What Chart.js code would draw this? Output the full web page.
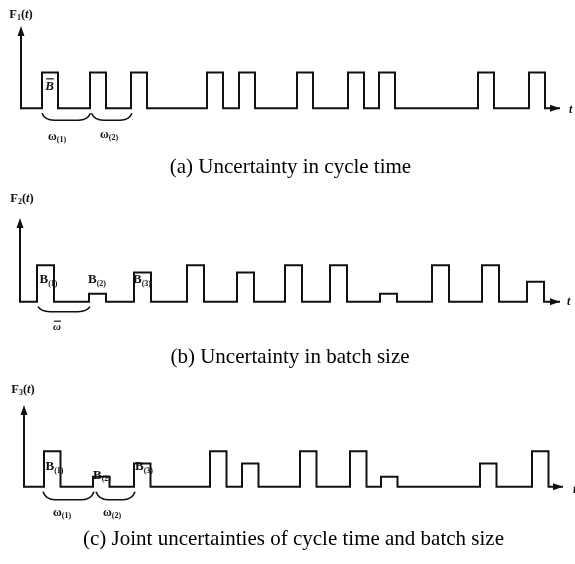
<!DOCTYPE html>
<html><head><meta charset="utf-8">
<script src="https://cdn.jsdelivr.net/npm/chart.js@4.4.0/dist/chart.umd.min.js"></script>
<style>
html,body{margin:0;padding:0;background:#fff;}
#wrap{position:relative;width:575px;height:564px;overflow:hidden;background:#fff;}
canvas{position:absolute;left:0;}
</style></head><body>
<div id="wrap">
<canvas id="ca" width="575" height="185" style="top:0px;width:575px;height:185px"></canvas>
<canvas id="cb" width="575" height="187" style="top:185px;width:575px;height:187px"></canvas>
<canvas id="cc" width="575" height="192" style="top:372px;width:575px;height:192px"></canvas>
</div>
<script>
// ---- data (time in arbitrary units, heights relative to mean batch size B̄ = 1) ----
const captionA = "(a) Uncertainty in cycle time";
const captionB = "(b) Uncertainty in batch size";
const captionC = "(c) Joint uncertainties of cycle time and batch size";

const pulseStartA  = [2.1, 6.9, 11.0, 18.6, 21.8, 27.6, 32.7, 35.8, 45.7, 50.8];
const pulseHeightA = [1, 1, 1, 1, 1, 1, 1, 1, 1, 1];
const pulseWidthA  = 1.6;
const timeEndA     = 53.9;

const pulseStartB  = [1.7, 6.9, 11.4, 16.7, 21.7, 26.5, 31.0, 36.0, 41.2, 46.2, 50.7];
const pulseHeightB = [1, 0.22, 0.8, 1, 0.8, 1, 1, 0.22, 1, 1, 0.55];
const pulseWidthB  = 1.7;
const timeEndB     = 54.0;

const pulseStartC  = [2.0, 6.9, 11.0, 18.6, 21.8, 27.6, 32.6, 35.7, 45.6, 50.8];
const pulseHeightC = [1, 0.28, 0.65, 1, 0.65, 1, 1, 0.28, 0.65, 1];
const pulseWidthC  = 1.65;
const timeEndC     = 53.9;

const yMax = 2.3;

// ---- helpers ----
function pulseTrain(starts, heights, width, tEnd){
  const pts = [{x:0, y:0}];
  starts.forEach((s,i)=>{
    pts.push({x:s,y:0},{x:s,y:heights[i]},{x:s+width,y:heights[i]},{x:s+width,y:0});
  });
  pts.push({x:tEnd, y:0});
  return pts;
}
const SERIF = '"Liberation Serif","Times New Roman",serif';
function drawParts(ctx, x, y, parts, align){
  let w = 0;
  parts.forEach(p=>{ctx.font=p.f; p.w = ctx.measureText(p.t).width; w += p.w;});
  let cx = align==='center' ? x - w/2 : x;
  ctx.textBaseline = 'middle'; ctx.textAlign = 'left'; ctx.fillStyle = '#111';
  parts.forEach(p=>{
    ctx.font = p.f; ctx.fillText(p.t, cx, y + (p.dy||0));
    if (p.bar){ ctx.save(); ctx.strokeStyle='#111'; ctx.lineWidth=1.2; ctx.beginPath(); ctx.moveTo(cx+1, y-p.bar); ctx.lineTo(cx+p.w, y-p.bar); ctx.stroke(); ctx.restore(); }
    cx += p.w;
  });
}
const fMain = 'bold 13px '+SERIF, fSub='bold 8px '+SERIF, fIt='bold italic 12px '+SERIF;
function fLabel(n){ return [{t:'F',f:'bold 12.5px '+SERIF},{t:n,f:'bold 8px '+SERIF,dy:3},{t:'(',f:'bold 12.5px '+SERIF},{t:'t',f:'bold italic 12.5px '+SERIF},{t:')',f:'bold 12.5px '+SERIF}]; }
function bLabel(n){ return [{t:'B',f:fMain},{t:'('+n+')',f:fSub,dy:4}]; }
function wLabel(n){ return [{t:'ω',f:'bold 12px '+SERIF},{t:'('+n+')',f:'bold 8px '+SERIF,dy:3}]; }

// ---- annotation layouts (value coordinates) ----
const annA = {
  labels:[
    {x:0.0, y:2.62, parts:fLabel('1'), align:'center'},
    {x:2.85, y:0.6, parts:[{t:'B',f:'bold italic 13px '+SERIF,bar:8}], align:'center'},
    {x:3.6, y:-0.8, parts:wLabel('1'), align:'center'},
    {x:8.8, y:-0.75, parts:wLabel('2'), align:'center'},
    {x:54.8, y:-0.05, parts:[{t:'t',f:fIt}], align:'left'}
  ],
  braces:[[2.1,6.95],[7.05,11.1]], braceDepth:12
};
const annB = {
  labels:[
    {x:0.2, y:2.82, parts:fLabel('2'), align:'center'},
    {x:1.95, y:0.6, parts:bLabel('1'), align:'left'},
    {x:6.8, y:0.6, parts:bLabel('2'), align:'left'},
    {x:11.3, y:0.6, parts:bLabel('3'), align:'left'},
    {x:3.7, y:-0.7, parts:[{t:'ω',f:'bold italic 11px '+SERIF,bar:6}], align:'center'},
    {x:54.7, y:0, parts:[{t:'t',f:fIt}], align:'left'}
  ],
  braces:[[1.8,7.0]], braceDepth:10
};
const annC = {
  labels:[
    {x:-0.1, y:2.72, parts:fLabel('3'), align:'center'},
    {x:2.15, y:0.56, parts:bLabel('1'), align:'left'},
    {x:6.9, y:0.32, parts:bLabel('2'), align:'left'},
    {x:11.1, y:0.56, parts:bLabel('3'), align:'left'},
    {x:3.8, y:-0.75, parts:wLabel('1'), align:'center'},
    {x:8.8, y:-0.75, parts:wLabel('2'), align:'center'},
    {x:54.9, y:-0.1, parts:[{t:'t',f:fIt}], align:'left'}
  ],
  braces:[[1.9,7.0],[7.2,11.1]], braceDepth:13
};

const decor = {
  id:'decor',
  afterDatasetsDraw(chart, args, opts){
    const ctx = chart.ctx, a = chart.chartArea, xs = chart.scales.x, ys = chart.scales.y;
    const ann = opts.ann;
    ctx.save();
    ctx.strokeStyle = '#111'; ctx.fillStyle = '#111'; ctx.lineWidth = 2;
    // y axis with arrow
    ctx.beginPath(); ctx.moveTo(a.left, a.bottom+1); ctx.lineTo(a.left, a.top+8); ctx.stroke();
    ctx.beginPath(); ctx.moveTo(a.left, a.top); ctx.lineTo(a.left-3.5, a.top+10); ctx.lineTo(a.left+3.5, a.top+10); ctx.closePath(); ctx.fill();
    // x axis arrow head
    ctx.beginPath(); ctx.moveTo(a.right, a.bottom); ctx.lineTo(a.right-10, a.bottom-3.5); ctx.lineTo(a.right-10, a.bottom+3.5); ctx.closePath(); ctx.fill();
    // braces
    ctx.lineWidth = 1.6;
    const base = ys.getPixelForValue(0);
    ann.braces.forEach(([t1,t2])=>{
      const x1 = xs.getPixelForValue(t1), x2 = xs.getPixelForValue(t2);
      const yT = base + 5, yB = base + ann.braceDepth;
      ctx.beginPath();
      ctx.moveTo(x1, yT);
      ctx.quadraticCurveTo(x1+3, yB, x1+12, yB);
      ctx.lineTo(x2-12, yB);
      ctx.quadraticCurveTo(x2-3, yB, x2, yT);
      ctx.stroke();
    });
    // labels
    ann.labels.forEach(l=>{
      drawParts(ctx, xs.getPixelForValue(l.x), ys.getPixelForValue(l.y), l.parts, l.align);
    });
    ctx.restore();
  }
};

function makeChart(id, starts, heights, width, tEnd, caption, ann, pad, titleSize, titlePad){
  new Chart(document.getElementById(id), {
    type:'line',
    data:{datasets:[{
      data: pulseTrain(starts, heights, width, tEnd),
      borderColor:'#111', borderWidth:2, pointRadius:0, tension:0, fill:false,
      clip:false, borderJoinStyle:'miter'
    }]},
    options:{
      responsive:false, animation:false, devicePixelRatio:1,
      layout:{padding:pad},
      scales:{
        x:{type:'linear', min:0, max:tEnd, display:false},
        y:{type:'linear', min:0, max:yMax, display:false}
      },
      plugins:{
        legend:{display:false}, tooltip:{enabled:false},
        title:{display:true, position:'bottom', text:caption, color:'#000',
          font:{family:SERIF, size:titleSize, weight:'normal', lineHeight:1.2},
          padding:titlePad},
        decor:{ann:ann}
      }
    },
    plugins:[decor]
  });
}

makeChart('ca', pulseStartA, pulseHeightA, pulseWidthA, timeEndA, captionA, annA,
  {top:26, left:21, right:15, bottom:0}, 21, {top:46.1, bottom:5.4});
makeChart('cb', pulseStartB, pulseHeightB, pulseWidthB, timeEndB, captionB, annB,
  {top:33, left:20, right:15, bottom:0}, 21, {top:42.7, bottom:2.4});
makeChart('cc', pulseStartC, pulseHeightC, pulseWidthC, timeEndC, captionC, annC,
  {top:33, left:24, right:12, bottom:0}, 21, {top:39.7, bottom:12.4});
</script>
</body></html>
